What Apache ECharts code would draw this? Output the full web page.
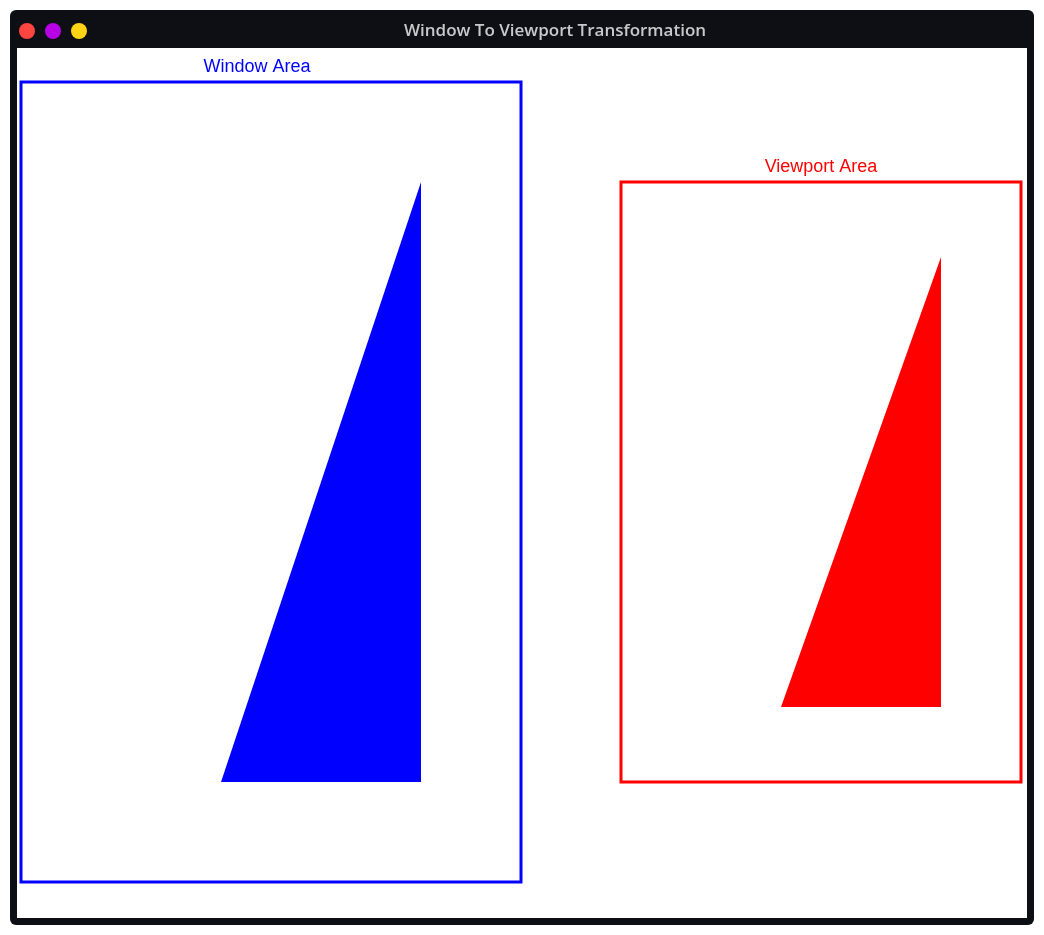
<!DOCTYPE html>
<html>
<head>
<meta charset="utf-8">
<title>Window To Viewport Transformation</title>
<script src="https://cdn.jsdelivr.net/npm/echarts@6/dist/echarts.min.js"></script>
<style>
  html, body { margin: 0; padding: 0; background: #fff; }
  #main { width: 1044px; height: 935px; }
</style>
</head>
<body>
<div id="main"></div>
<script>
// world window limits and the triangle drawn in it
let windowX = [0, 500];
let windowY = [0, 800];
let triangleX = [200, 400, 400];
let triangleY = [100, 100, 700];

let chart = echarts.init(document.getElementById("main"));

// same world coordinates in both grids; the grid size does the mapping
function axes(idx) {
  return {
    x: { type: "value", gridIndex: idx, min: windowX[0], max: windowX[1], show: false },
    y: { type: "value", gridIndex: idx, min: windowY[0], max: windowY[1], show: false }
  };
}

function triangle(idx, color) {
  return {
    type: "custom",
    xAxisIndex: idx,
    yAxisIndex: idx,
    silent: true,
    data: triangleX.map((x, i) => [x, triangleY[i]]),
    renderItem: function (params, api) {
      if (params.dataIndex !== 0) return null;
      return {
        type: "polygon",
        shape: { points: triangleX.map((x, i) => api.coord([x, triangleY[i]])) },
        style: { fill: color }
      };
    }
  };
}

let a0 = axes(0);
let a1 = axes(1);

let option = {
  backgroundColor: "#ffffff",
  animation: false,
  grid: [
    { left: 21, top: 82, width: 500, height: 800, show: true, borderColor: "#0000ff", borderWidth: 3, backgroundColor: "transparent" },
    { left: 621, top: 182, width: 400, height: 600, show: true, borderColor: "#ff0000", borderWidth: 3, backgroundColor: "transparent" }
  ],
  xAxis: [a0.x, a1.x],
  yAxis: [a0.y, a1.y],
  graphic: {
    elements: [
      { type: "rect", z: -20, shape: { x: 10, y: 10, width: 1024, height: 915, r: 6 }, style: { fill: "#0e0f14" } },
      { type: "rect", z: -19, shape: { x: 17, y: 48, width: 1010, height: 870 }, style: { fill: "#ffffff" } },
      { type: "circle", z: -18, shape: { cx: 27, cy: 31, r: 8 }, style: { fill: "#ff4540" } },
      { type: "circle", z: -18, shape: { cx: 53, cy: 31, r: 8 }, style: { fill: "#b800e6" } },
      { type: "circle", z: -18, shape: { cx: 79, cy: 31, r: 8 }, style: { fill: "#ffd414" } },
      {
        type: "text", z: 10, x: 555, y: 31,
        style: { text: "Window To Viewport Transformation", fill: "#c8c9cd", font: "600 17px 'Open Sans'", align: "center", verticalAlign: "middle" }
      },
      {
        type: "text", z: 10, x: 257, y: 67,
        style: { text: "Window Area", fill: "#0000ff", font: "18px 'Liberation Sans'", align: "center", verticalAlign: "middle" }
      },
      {
        type: "text", z: 10, x: 821, y: 167,
        style: { text: "Viewport Area", fill: "#ff0000", font: "18px 'Liberation Sans'", align: "center", verticalAlign: "middle" }
      }
    ]
  },
  series: [triangle(0, "#0000ff"), triangle(1, "#ff0000")]
};

chart.setOption(option);
window.addEventListener("resize", () => chart.resize());
</script>
</body>
</html>
